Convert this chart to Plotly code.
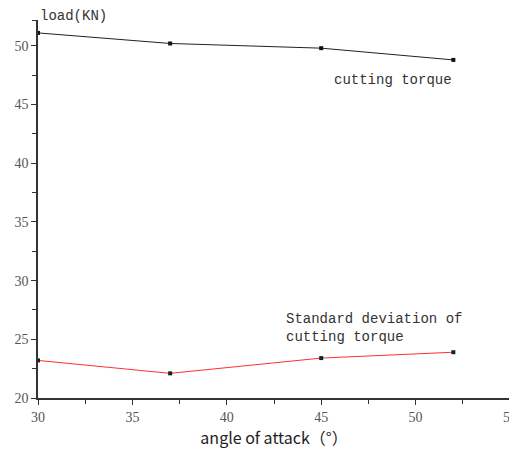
import plotly.graph_objects as go

angles = [30, 37, 45, 52]
cutting_torque = [51.1, 50.2, 49.8, 48.8]
std_dev_torque = [23.2, 22.1, 23.4, 23.9]
x_ticks = [30, 35, 40, 45, 50, 55]
y_ticks = [20, 25, 30, 35, 40, 45, 50]

fig = go.Figure()
fig.add_trace(go.Scatter(x=angles, y=cutting_torque, mode="lines+markers",
                         line=dict(color="#222222", width=1),
                         marker=dict(symbol="square", size=4, color="#111111"),
                         showlegend=False, cliponaxis=False))
fig.add_trace(go.Scatter(x=angles, y=std_dev_torque, mode="lines+markers",
                         line=dict(color="#ff3030", width=1),
                         marker=dict(symbol="square", size=4, color="#0a2a2a"),
                         showlegend=False, cliponaxis=False))

serif = "Times New Roman, Liberation Serif, serif"
mono = "Liberation Mono"

# page body has an 8px default margin, so the figure is offset by 8px
fig.update_layout(
    width=517, height=441,
    margin=dict(l=30, r=15, t=12, b=51),
    plot_bgcolor="white", paper_bgcolor="white",
    font=dict(family=serif),
    xaxis=dict(range=[30, 55], tickvals=x_ticks, ticks="outside", ticklen=5,
               automargin=False, ticklabeloverflow="allow",
               tickcolor="#333", showline=True, linecolor="#333", linewidth=1.5,
               showgrid=False, zeroline=False,
               tickfont=dict(family=serif, size=14, color="#555"),
               minor=dict(tickvals=[32.5, 37.5, 42.5, 47.5, 52.5], ticks="outside",
                          ticklen=4, tickcolor="#333"),
               title=dict(text="angle of attack（°）", standoff=9,
                          font=dict(family="Noto Sans CJK SC", size=16, color="#222"))),
    yaxis=dict(range=[20, 52.2], tickvals=y_ticks, ticks="outside", ticklen=5,
               automargin=False,
               tickcolor="#333", showline=True, linecolor="#333", linewidth=1.5,
               showgrid=False, zeroline=False,
               tickfont=dict(family=serif, size=14, color="#555"),
               minor=dict(tickvals=[22.5, 27.5, 32.5, 37.5, 42.5, 47.5, 52.2],
                          ticks="outside", ticklen=4, tickcolor="#333")),
    annotations=[
        dict(x=0, y=1, xref="paper", yref="paper", xanchor="left", yanchor="bottom",
             text="load(KN)", showarrow=False, xshift=0, yshift=-6,
             font=dict(family=mono, size=14, color="#333")),
        dict(x=45.57, y=47.1, xref="x", yref="y", xanchor="left", yanchor="middle",
             text="cutting torque", showarrow=False,
             font=dict(family=mono, size=14, color="#333")),
        dict(x=43.03, y=25.95, xref="x", yref="y", xanchor="left", yanchor="middle",
             text="Standard deviation of<br>cutting torque", showarrow=False, align="left",
             font=dict(family=mono, size=14, color="#333")),
    ],
)

fig.write_html("out.html")
